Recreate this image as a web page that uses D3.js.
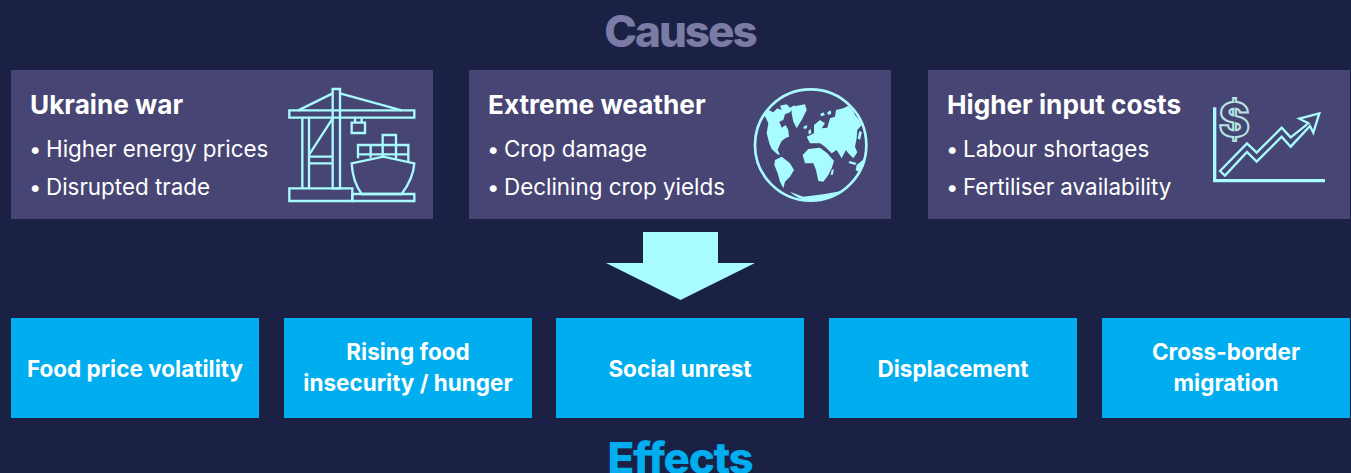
<!DOCTYPE html>
<html>
<head>
<meta charset="utf-8">
<script src="https://cdn.jsdelivr.net/npm/d3@7"></script>
<style>
  html, body { margin: 0; padding: 0; background: #1b2145; overflow: hidden; }
  text { font-family: Inter, sans-serif; }
</style>
</head>
<body>
<svg id="chart" width="1351" height="473"></svg>
<script>
var causeTitles = ["Ukraine war", "Extreme weather", "Higher input costs"];
var causeItems = [
   ["Higher energy prices", "Disrupted trade"],
   ["Crop damage", "Declining crop yields"],
   ["Labour shortages", "Fertiliser availability"]
];
var effectLabels = [
   ["Food price volatility"],
   ["Rising food", "insecurity / hunger"],
   ["Social unrest"],
   ["Displacement"],
   ["Cross-border", "migration"]
];

var bg = "#1b2145", causeFill = "#474573", cyan = "#a8fbff", blue = "#00aeef";

var svg = d3.select("#chart");
svg.append("rect").attr("width", 1351).attr("height", 473).attr("fill", bg);

var xCause = d3.scaleBand().domain(d3.range(3)).range([11, 1350]).paddingInner(0.0796);
var xEffect = d3.scaleBand().domain(d3.range(5)).range([11, 1350]).paddingInner(0.0907);

// snap box edges to whole pixels
function snap(v) { return Math.round(v - 0.1); }

// titles
svg.append("text").attr("x", 680).attr("y", 47).attr("text-anchor", "middle")
   .attr("font-size", 44).attr("font-weight", 800).attr("letter-spacing", -2)
   .attr("fill", "#7a7ca6").text("Causes");
svg.append("text").attr("x", 680).attr("y", 474).attr("text-anchor", "middle")
   .attr("font-size", 44).attr("font-weight", 800).attr("letter-spacing", -1.4)
   .attr("fill", blue).text("Effects");

// cause boxes
var cause = svg.selectAll("g.cause").data(causeTitles).join("g")
   .attr("class", "cause")
   .attr("transform", function (d, i) { return "translate(" + snap(xCause(i)) + ",70)"; });

cause.append("rect").attr("width", Math.round(xCause.bandwidth())).attr("height", 149).attr("fill", causeFill);
cause.append("text").attr("x", 19).attr("y", 44).attr("font-size", 26.2).attr("font-weight", 700)
   .attr("fill", "#fff").text(function (d) { return d; });

cause.each(function (d, i) {
   var g = d3.select(this);
   causeItems[i].forEach(function (item, j) {
      g.append("text").attr("x", 18).attr("y", 87 + j * 38).attr("font-size", 22).attr("fill", "#fff").text("•");
      g.append("text").attr("x", 35).attr("y", 87 + j * 38).attr("font-size", 22.4).attr("fill", "#fff").text(item);
   });
});

// arrow
svg.append("path").attr("fill", cyan)
   .attr("d", "M643,232H718V263H755L680.5,300L606,263H643Z");

// effect boxes
var effect = svg.selectAll("g.effect").data(effectLabels).join("g")
   .attr("class", "effect")
   .attr("transform", function (d, i) { return "translate(" + snap(xEffect(i)) + ",318)"; });

effect.append("rect").attr("width", Math.round(xEffect.bandwidth())).attr("height", 100).attr("fill", blue);
effect.each(function (lines) {
   var g = d3.select(this);
   var top = lines.length == 1 ? 59 : 42;
   lines.forEach(function (line, j) {
      g.append("text").attr("x", xEffect.bandwidth() / 2).attr("y", top + j * 31)
       .attr("text-anchor", "middle").attr("font-size", 22.5).attr("font-weight", 700)
       .attr("fill", "#fff").text(line);
   });
});

// icons, drawn in units of a third of a pixel
function icon(x, y) {
   return svg.append("g").attr("transform", "translate(" + x + "," + y + ") scale(0.3333)")
      .attr("fill", "none").attr("stroke", cyan).attr("stroke-width", 7);
}

var crane = icon(270, 75);
["M58,106H433V128H58Z",
 "M188,42H210V340H188Z",
 "M85,106L188,55M210,55L395,106",
 "M97,128V340M117,128V340",
 "M117,240L188,130M117,245H188M117,265H188",
 "M58,340H247V378H58Z",
 "M255,128V143M275,128V143M245,143H285V174H245Z",
 "M245,265L340,245L433,265Q430,310 395,357H275Q248,320 245,265Z",
 "M247,357H433V378H247Z",
 "M264,250V210H415V258M302,210V248M338,210V245M378,210V252M264,238H415M338,210V180H378V210"
].forEach(function (d) { crane.append("path").attr("d", d); });

var globe = icon(740, 75);
globe.append("circle").attr("cx", 212).attr("cy", 210).attr("r", 167).attr("stroke-width", 8);
[
 "M72,120L85,105L100,112L112,100L125,105L120,92L140,88L150,98L165,90L160,100L150,112L135,118L130,135L118,140L125,158L137,150L145,165L147,185L138,188L125,198L118,212L113,225L120,240L112,238L95,222L88,205L80,175L85,145L78,130Z",
 "M105,255L125,245L150,265L162,285L150,305L135,320L130,340L120,320L113,295L103,270Z",
 "M155,95L195,88L200,105L185,135L170,160L160,140L155,115Z",
 "M205,195L200,185L222,175L222,150L240,135L255,145L245,160L262,158L270,130L285,125L288,105L310,100L325,92L340,108L345,120L358,135L365,150L352,165L350,190L345,215L352,232L340,250L325,235L318,225L305,250L290,225L275,235L255,215L240,205L222,205L210,205Z",
 "M188,240L205,222L240,218L262,235L282,258L275,280L265,300L250,320L235,318L228,285L220,265L195,265Z",
 "M347,285L350,270L375,250L372,272L355,290Z",
 "M150,350L190,365L250,358L305,348Q260,375 212,378Q175,375 150,350Z",
 "M275,285L282,283L278,300L272,300Z",
 "M190,155L202,150L200,160L192,162Z",
 "M358,168L366,172L360,195L353,190Z",
 "M328,258L350,264L345,270L326,264Z",
 "M205,168L212,162L214,175L206,178Z",
 "M240,118L250,112L255,120L245,124Z",
 "M262,112L272,106L274,116L264,120Z"
].forEach(function (d) {
   globe.append("path").attr("d", d).attr("fill", cyan).attr("stroke", "none");
});

var growth = icon(1200, 90);
growth.append("path").attr("d", "M44,52V272H375").attr("stroke-width", 10);
growth.append("path")
   .attr("d", "M60,243L141,160L170,188L245,113L272,142L325,100L298,86L358,70L340,128L330,108L272,170L245,140L170,215L141,186L75,257Z");
growth.append("text").attr("x", 103).attr("y", 141).attr("text-anchor", "middle")
   .attr("font-size", 143).attr("font-weight", 800).attr("fill", "none")
   .attr("stroke", "#b6e6e2").attr("stroke-width", 6).text("$");
</script>
</body>
</html>
